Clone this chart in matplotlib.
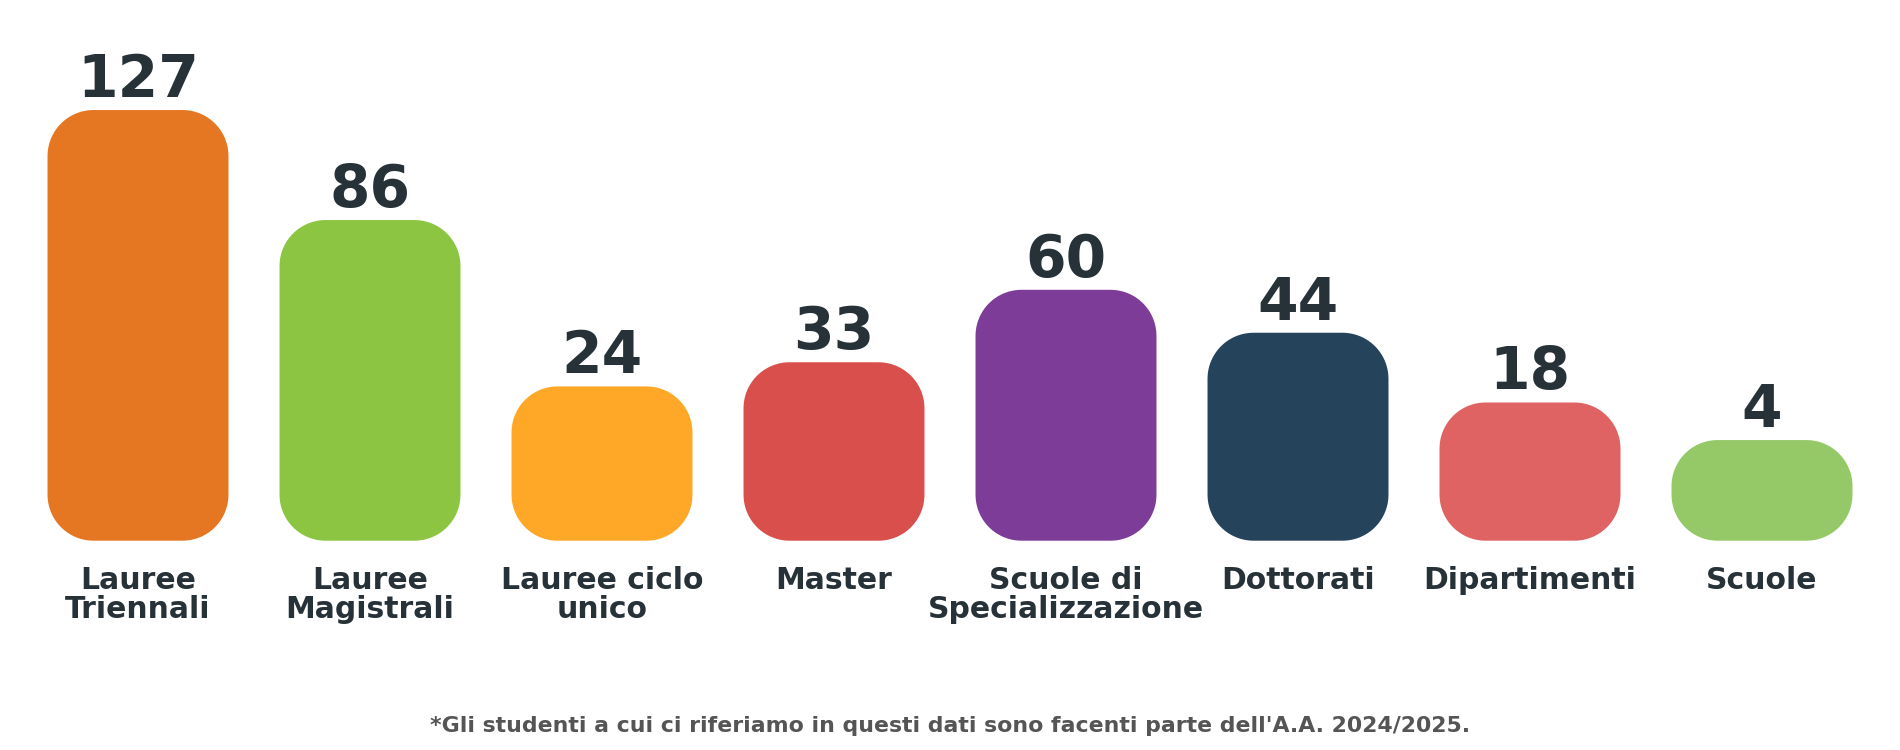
"""Rounded-bar summary of courses / structures (A.A. 2024/2025)."""

import numpy as np
import matplotlib
matplotlib.use("Agg")
import matplotlib.pyplot as plt  # noqa: E402
from matplotlib.patches import Polygon  # noqa: E402

categories = ["Lauree\nTriennali", "Lauree\nMagistrali", "Lauree ciclo\nunico", "Master",
              "Scuole di\nSpecializzazione", "Dottorati", "Dipartimenti", "Scuole"]
values = [127, 86, 24, 33, 60, 44, 18, 4]
colors = ["#E67722", "#8BC541", "#FFA726", "#D94F4C", "#7D3C98", "#26435C", "#E06363", "#95C867"]
footnote = "*Gli studenti a cui ci riferiamo in questi dati sono facenti parte dell'A.A. 2024/2025."

TEXT = "#263238"
BASE = 33.5      # minimum visual height so small values still show as a pill
WIDTH = 0.78
RADIUS_PX = 46
YMAX = 201.5


def rounded_rect(x0, y0, w, h, rx, ry):
    """Polygon outline of a rectangle with elliptical (circular on screen) corners."""
    ry = min(ry, h / 2)
    rx = min(rx, w / 2)
    t = np.linspace(0, np.pi / 2, 24)
    pts = []
    for cx, cy, a0 in [(x0 + w - rx, y0 + h - ry, 0), (x0 + rx, y0 + h - ry, np.pi / 2),
                       (x0 + rx, y0 + ry, np.pi), (x0 + w - rx, y0 + ry, 1.5 * np.pi)]:
        a = a0 + t
        pts.append(np.column_stack([cx + rx * np.cos(a), cy + ry * np.sin(a)]))
    return np.vstack(pts)


fig = plt.figure(figsize=(19, 7.5), dpi=100)
ax = fig.add_axes([22 / 1900, 209.3 / 750, 1856 / 1900, 540.7 / 750])
ax.set_xlim(-0.5, len(values) - 0.5)
ax.set_ylim(0, YMAX)
ax.axis("off")

# pixels per data unit on each axis, for circular corners
bbox = ax.get_window_extent()
px_x = bbox.width / len(values)
px_y = bbox.height / YMAX

for i, (v, c) in enumerate(zip(values, colors)):
    outline = rounded_rect(i - WIDTH / 2, 0, WIDTH, v + BASE, RADIUS_PX / px_x, RADIUS_PX / px_y)
    ax.add_patch(Polygon(outline, closed=True, facecolor=c, edgecolor="none", clip_on=False))
    ax.annotate(str(v), (i, v + BASE), xytext=(0, 9.4), textcoords="offset points",
                ha="center", va="baseline", fontsize=42, fontweight="bold", color=TEXT)
    ax.annotate(categories[i], (i, 0), xytext=(0, -18), textcoords="offset points",
                ha="center", va="top", fontsize=21.5, fontweight="bold", color=TEXT,
                linespacing=1.0)

fig.text(0.5, 1 - 732 / 750, footnote, ha="center", va="baseline",
         fontsize=15.8, fontweight="bold", color="#555555")

fig.savefig("out.png", dpi=100)
